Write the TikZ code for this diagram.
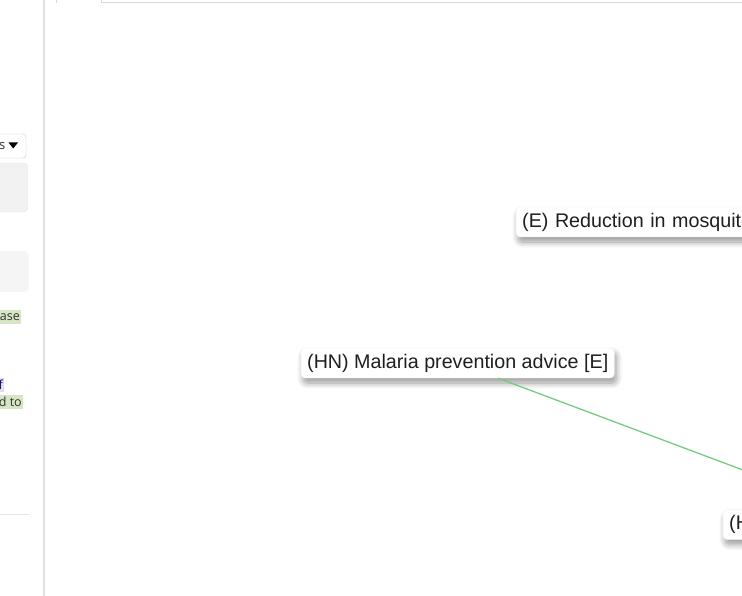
\documentclass[tikz,border=0pt]{standalone}
\usepackage{fontspec}
\setmainfont{Liberation Sans}
\newfontfamily\uifont{Open Sans}
\usetikzlibrary{shadows.blur}
\definecolor{edgegreen}{RGB}{112,204,128}
\definecolor{hlgreen}{RGB}{216,229,196}
\tikzset{%
cardnode/.style={fill=white,draw=black!5,rounded corners=4pt,text=black!88,
    inner xsep=6pt,inner ysep=0pt,minimum height=30pt,anchor=west,
    blur shadow={shadow xshift=2pt,shadow yshift=-5pt,shadow blur radius=6pt,shadow opacity=40,shadow blur steps=10},
    font=\fontsize{19.7}{23}\selectfont
},
%
hlbox/.style={fill=#1,inner xsep=1pt,inner ysep=0pt,minimum height=14pt,anchor=east,
    text=black!80,font=\uifont\fontsize{12.5}{14}\selectfont
},
}

\begin{document}
\begin{tikzpicture}[x=1pt,y=-1pt]
        \useasboundingbox (0,0) rectangle (742,596);
        \clip (0,0) rectangle (742,596);
        % side panel
        \draw[black!12,line width=1.5pt] (44,0)--(44,596);
        \draw[black!22,fill=white,rounded corners=3pt] (-10,134) rectangle (26,158);
        \node[anchor=east,inner sep=0pt,text=black!80,font=\uifont\fontsize{13}{14}\selectfont] (sel) at (5.5,146) {s};
        \fill (8.5,142.5)--(18,142.5)--(13.25,148.5)--cycle;
        \draw[black!10,fill=black!5,rounded corners=4pt] (-10,163) rectangle (27.5,212);
        \fill[black!4,rounded corners=4pt] (-10,251) rectangle (28.5,292);
        \node[hlbox=hlgreen] (ase) at (21,317) {ase};
        \node[hlbox=black!12,text=blue!55!black] (f) at (4,385) {f};
        \node[hlbox=hlgreen] (dto) at (23,402) {d to};
        \draw[black!10] (0,514)--(29,514);
        % top edge
        \draw[black!15] (101,0)--(101,2)--(742,2);
        \draw[black!15] (56,0)--(56,3);
        % graph
        \node[cardnode,text width=300pt,align=left] (E) at (516,222) {(E) Reduction in mosquito};
        \node[cardnode] (HN) at (301,363) {(HN) Malaria prevention advice [E]};
        \node[cardnode,text width=318pt,align=left] (H) at (723,524.5) {(H};
        \draw[edgegreen,line width=1.3pt] (HN)--(H);
\end{tikzpicture}
\end{document}
